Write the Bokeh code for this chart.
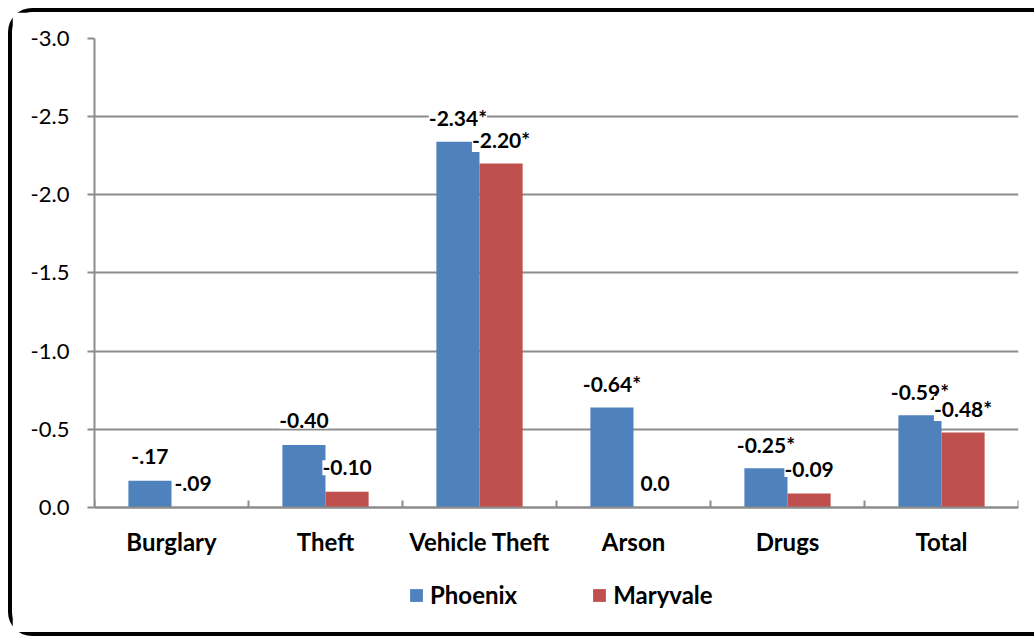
from bokeh.plotting import figure
from bokeh.models import (ColumnDataSource, Range1d, FixedTicker, LabelSet,
                          Legend, LegendItem, CustomJSTickFormatter)
from bokeh.core.properties import value
from bokeh.embed import file_html
from bokeh.resources import INLINE

categories = ["Burglary", "Theft", "Vehicle Theft", "Arson", "Drugs", "Total"]
phoenix = [-0.17, -0.40, -2.34, -0.64, -0.25, -0.59]
maryvale = [0.0, -0.10, -2.20, 0.0, -0.09, -0.48]
phoenix_labels = ["-.17", "-0.40", "-2.34*", "-0.64*", "-0.25*", "-0.59*"]
maryvale_labels = ["-.09", "-0.10", "-2.20*", "0.0", "-0.09", "-0.48*"]
y_ticks = [0.0, -0.5, -1.0, -1.5, -2.0, -2.5, -3.0]

BLUE = "#4F81BD"
RED = "#C0504D"
GRAY = "#8C8C8C"
FONT = "Lato"

centers = [i + 0.5 for i in range(len(categories))]
w = 0.28
src_p = ColumnDataSource(dict(x=[c - w / 2 for c in centers], top=phoenix, lab=phoenix_labels))
src_m = ColumnDataSource(dict(x=[c + w / 2 for c in centers], top=maryvale, lab=maryvale_labels))

# frame extends below the baseline to hold category labels and legend
p = figure(frame_width=924, frame_height=594, output_backend="svg", toolbar_location=None,
           x_range=Range1d(0, 6), y_range=Range1d(0.8, -3.0),
           min_border_left=82, min_border_top=26, min_border_right=16, min_border_bottom=0)
p.outline_line_color = None
p.background_fill_color = "white"
p.border_fill_color = "white"
p.styles = {"margin-left": "8px", "margin-top": "8px",
            "border-left": "4px solid black", "border-top": "4px solid black",
            "border-bottom": "4px solid black", "border-top-left-radius": "24px",
            "border-bottom-left-radius": "24px", "box-sizing": "content-box"}

rp = p.vbar(x="x", top="top", bottom=0, width=w, source=src_p, fill_color=BLUE, line_color=None)
rm = p.vbar(x="x", top="top", bottom=0, width=w, source=src_m, fill_color=RED, line_color=None)

for src in (src_p, src_m):
    p.add_layout(LabelSet(x="x", y="top", text="lab", source=src, text_align="center",
                          text_baseline="middle", y_offset=24, text_font=value(FONT),
                          text_font_style=value("bold"), text_font_size=value("21px"),
                          text_color=value("black"), background_fill_color="white"))

# x axis, drawn at the zero baseline
p.xaxis.fixed_location = 0
p.xaxis.ticker = FixedTicker(ticks=centers, minor_ticks=list(range(0, 7)))
p.xaxis.formatter = CustomJSTickFormatter(args=dict(labels=categories),
                                          code="return labels[Math.floor(tick)];")
p.xaxis.major_tick_line_color = None
p.xaxis.minor_tick_line_color = GRAY
p.xaxis.minor_tick_line_width = 2
p.xaxis.minor_tick_in = 7
p.xaxis.minor_tick_out = 0
p.xaxis.axis_line_color = GRAY
p.xaxis.axis_line_width = 2
p.xaxis.major_label_text_font = FONT
p.xaxis.major_label_text_font_style = "bold"
p.xaxis.major_label_text_font_size = "24px"
p.xaxis.major_label_text_color = "black"
p.xaxis.major_label_standoff = 14
p.xgrid.grid_line_color = None

# y axis
p.yaxis.bounds = (-3.0, 0.0)
p.yaxis.ticker = FixedTicker(ticks=y_ticks, minor_ticks=[])
p.yaxis.formatter = CustomJSTickFormatter(code="return tick.toFixed(1);")
p.yaxis.major_tick_line_color = GRAY
p.yaxis.major_tick_line_width = 2
p.yaxis.major_tick_in = 0
p.yaxis.major_tick_out = 7
p.yaxis.axis_line_color = GRAY
p.yaxis.axis_line_width = 2
p.yaxis.major_label_text_font = FONT
p.yaxis.major_label_text_font_size = "22px"
p.yaxis.major_label_text_color = "black"
p.yaxis.major_label_standoff = 18
p.ygrid.grid_line_color = GRAY
p.ygrid.grid_line_width = 2

legend = Legend(items=[LegendItem(label="Phoenix", renderers=[rp]),
                       LegendItem(label="Maryvale", renderers=[rm])],
                orientation="horizontal", location=(314, 23),
                label_text_font=FONT, label_text_font_style="bold",
                label_text_font_size="24px", label_text_color="black",
                glyph_width=16, glyph_height=16, label_standoff=6, spacing=74,
                border_line_color=None, background_fill_alpha=0, padding=0, margin=0)
p.add_layout(legend, "center")

open("out.html", "w").write(file_html(p, INLINE))
